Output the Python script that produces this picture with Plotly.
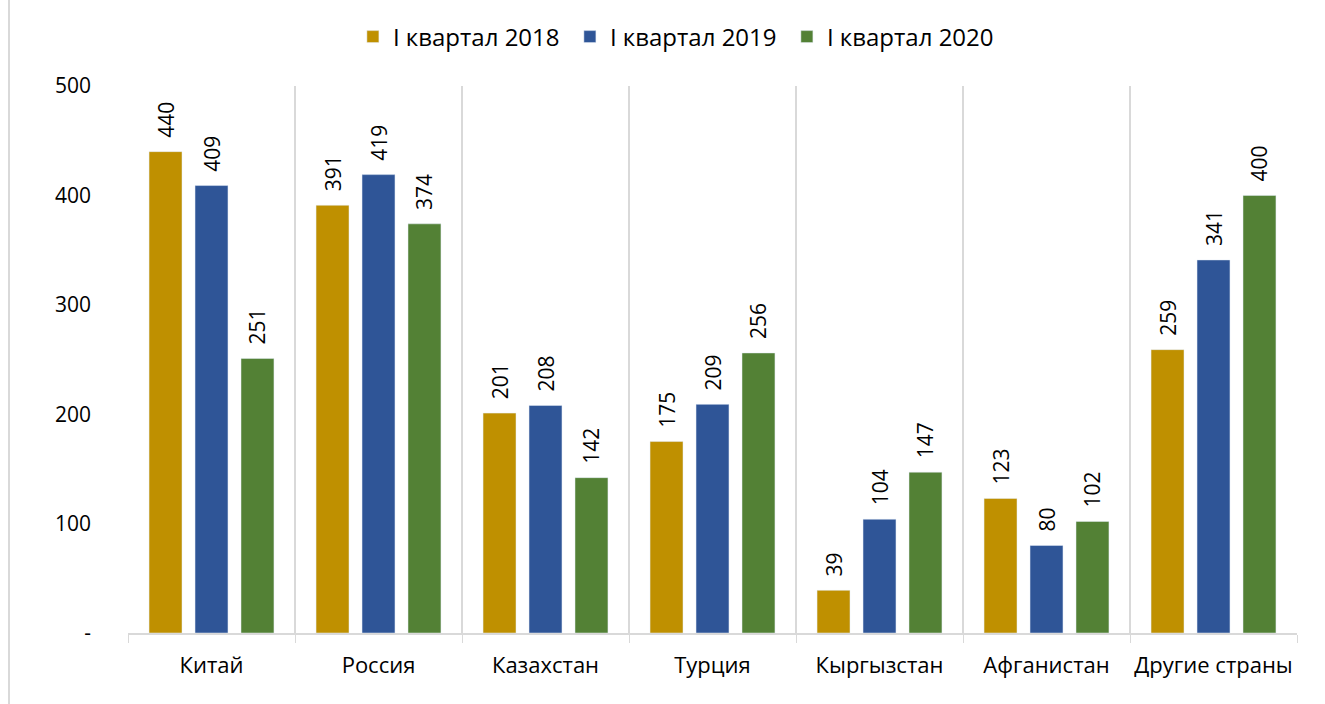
import plotly.graph_objects as go

categories = ["Китай", "Россия", "Казахстан", "Турция", "Кыргызстан", "Афганистан", "Другие страны"]
series_names = ["I квартал 2018", "I квартал 2019", "I квартал 2020"]
q1_2018 = [440, 391, 201, 175, 39, 123, 259]
q1_2019 = [409, 419, 208, 209, 104, 80, 341]
q1_2020 = [251, 374, 142, 256, 147, 102, 400]
colors = ["#BF9000", "#2F5597", "#538135"]
y_tickvals = [0, 100, 200, 300, 400, 500]
y_ticktext = ["-", "100", "200", "300", "400", "500"]

fig = go.Figure()
for name, vals, col in zip(series_names, [q1_2018, q1_2019, q1_2020], colors):
    fig.add_trace(go.Bar(
        x=categories, y=vals, name=name, marker_color=col,
        text=["\u00a0\u00a0" + str(v) for v in vals], textposition="outside", textangle=-90,
        textfont=dict(family="Open Sans, Noto Sans", size=21, color="#000000"),
        constraintext="none", cliponaxis=False,
    ))

fig.update_layout(
    width=1325, height=704,
    margin=dict(l=128, r=28, t=86, b=71, autoexpand=False),
    paper_bgcolor="white", plot_bgcolor="white",
    barmode="group", bargap=0.174, bargroupgap=0.283,
    font=dict(family="Open Sans, Noto Sans", size=20, color="#000000"),
    legend=dict(orientation="h", x=0.512, xanchor="center", xref="container",
                y=1 - 37 / 704, yanchor="middle", yref="container",
                font=dict(size=24), traceorder="normal", itemwidth=30,
                entrywidth=172),
    showlegend=True,
)
fig.update_xaxes(
    type="category", tickson="boundaries", ticks="outside", ticklen=8,
    tickcolor="#D9D9D9", showgrid=True, gridcolor="#D9D9D9", gridwidth=2,
    showline=True, linecolor="#D9D9D9", linewidth=2,
    tickfont=dict(size=22), tickangle=0, ticklabelstandoff=12,
)
fig.update_yaxes(
    range=[0, 500], tickvals=y_tickvals, ticktext=y_ticktext,
    showgrid=False, zeroline=False, showline=False,
    tickfont=dict(size=21), ticklabelstandoff=36,
)
fig.add_shape(type="line", xref="paper", yref="paper",
              x0=-0.1018, x1=-0.1018, y0=-0.2, y1=1.2,
              line=dict(color="#D9D9D9", width=2))

fig.write_html("out.html", config={"displayModeBar": False},
               post_script="document.body.style.margin='0';")
